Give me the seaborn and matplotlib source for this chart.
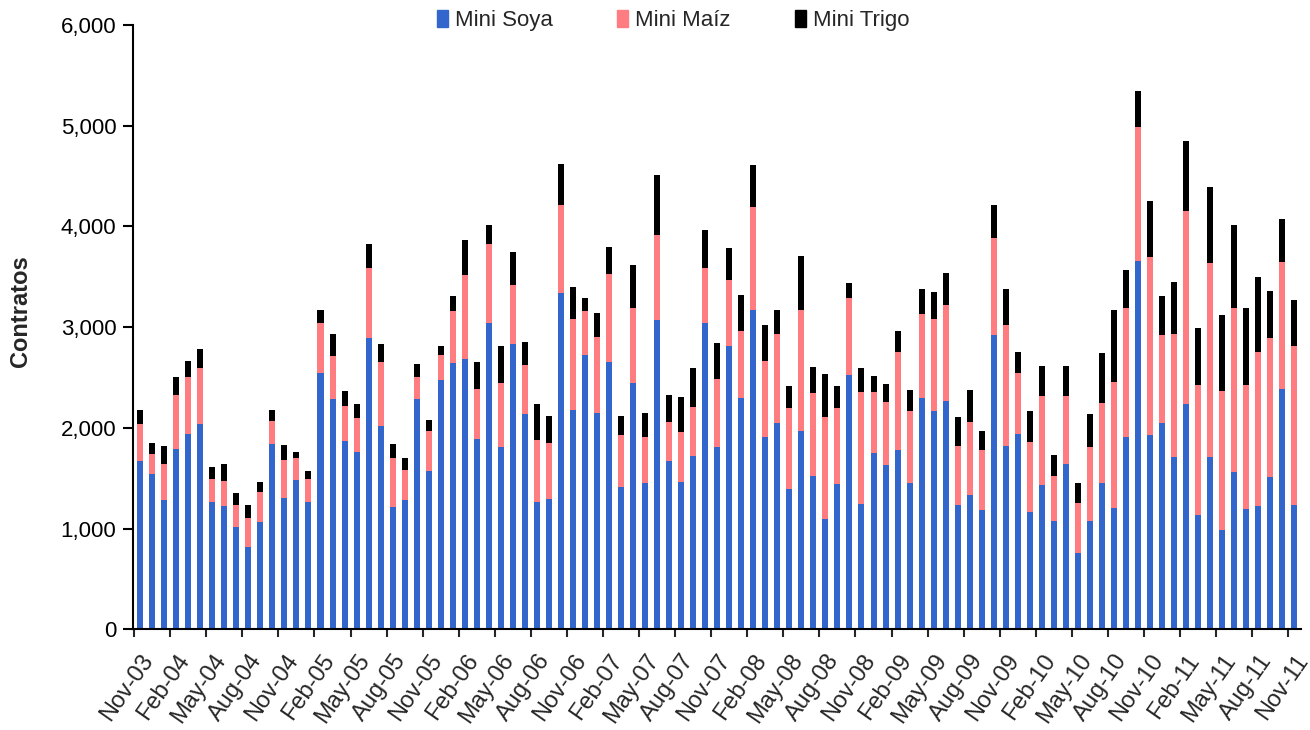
import matplotlib
matplotlib.use("Agg")
import matplotlib.pyplot as plt
from matplotlib.patches import Patch
from matplotlib.ticker import FuncFormatter, FixedLocator
import pandas as pd
import seaborn as sns

# meses Nov-03 .. Nov-11 (97 meses)
meses = pd.date_range("2003-11-01", periods=97, freq="MS").strftime("%b-%y").tolist()

mini_soya = [
    1670, 1540, 1285, 1789, 1939, 2042, 1268, 1225, 1016, 820, 1062, 1836,
    1298, 1477, 1268, 2546, 2281, 1866, 1760, 2892, 2015, 1212, 1285, 2281,
    1572, 2478, 2640, 2687, 1885, 3041, 1812, 2833, 2137, 1259, 1289, 3336,
    2180, 2727, 2150, 2657, 1408, 2448, 1454, 3071, 1673, 1464, 1719, 3038,
    1809, 2816, 2299, 3171, 1912, 2047, 1391, 1968, 1524, 1093, 1438, 2521,
    1242, 1749, 1633, 1779, 1454, 2299, 2163, 2266, 1229, 1332, 1186, 2922,
    1820, 1939, 1163, 1433, 1074, 1643, 754, 1074, 1451, 1199, 1910, 3660,
    1924, 2045, 1714, 2234, 1135, 1714, 989, 1565, 1195, 1224, 1508, 2383,
    1238,
]
mini_maiz = [
    372, 203, 355, 532, 561, 548, 223, 249, 222, 286, 296, 236,
    385, 223, 223, 496, 431, 355, 342, 696, 638, 488, 299, 222,
    394, 245, 517, 825, 500, 782, 630, 589, 484, 619, 560, 872,
    901, 430, 752, 871, 517, 739, 458, 842, 384, 491, 487, 550,
    679, 653, 663, 1023, 755, 888, 802, 1203, 818, 1011, 755, 769,
    1114, 607, 620, 978, 709, 828, 918, 951, 593, 725, 593, 961,
    1201, 604, 697, 886, 445, 676, 498, 740, 797, 1255, 1281, 1327,
    1768, 872, 1217, 1917, 1291, 1918, 1376, 1622, 1231, 1529, 1384, 1263,
    1576,
]
mini_trigo = [
    133, 106, 176, 179, 166, 195, 119, 166, 117, 132, 103, 103,
    150, 60, 76, 129, 220, 146, 132, 239, 176, 136, 116, 133,
    107, 90, 149, 354, 269, 192, 371, 325, 235, 358, 268, 414,
    315, 133, 239, 265, 192, 427, 235, 596, 269, 354, 385, 371,
    358, 311, 358, 418, 354, 236, 219, 533, 265, 427, 219, 149,
    235, 162, 179, 205, 209, 252, 268, 324, 282, 315, 189, 325,
    358, 207, 310, 295, 206, 295, 196, 327, 491, 712, 377, 352,
    559, 387, 519, 697, 565, 757, 758, 829, 761, 744, 469, 430,
    458,
]

COLOR_SOYA = "#3366CC"
COLOR_MAIZ = "#FF7C80"
COLOR_TRIGO = "#000000"

df = pd.DataFrame({"mes": meses, "soya": mini_soya, "maiz": mini_maiz, "trigo": mini_trigo})
df["soya_maiz"] = df["soya"] + df["maiz"]
df["total"] = df["soya_maiz"] + df["trigo"]

sns.set_theme(style="white")
plt.rcParams["font.family"] = ["Liberation Sans", "DejaVu Sans"]

fig = plt.figure(figsize=(13.1, 7.3), dpi=100)
ax = fig.add_axes([0.1015, 0.138, 0.892, 0.828])

# barras apiladas: total, luego soya+maiz, luego soya encima
for col, color in [("total", COLOR_TRIGO), ("soya_maiz", COLOR_MAIZ), ("soya", COLOR_SOYA)]:
    sns.barplot(data=df, x="mes", y=col, order=meses, color=color, saturation=1,
                width=0.5, errorbar=None, ax=ax, linewidth=0)

ax.set_xlim(-0.6, len(meses) - 0.4)
ax.set_ylim(0, 6000)
ax.set_yticks(range(0, 6001, 1000))
ax.yaxis.set_major_formatter(FuncFormatter(lambda v, _: f"{v:,.0f}"))
ax.tick_params(axis="y", which="major", direction="out", length=7, width=1.5,
               left=True, labelsize=16, colors="black", pad=5)

label_pos = list(range(0, len(meses), 3))
ax.xaxis.set_major_locator(FixedLocator(label_pos))
ax.set_xticklabels([meses[i] for i in label_pos], rotation=55, ha="right",
                   rotation_mode="anchor", fontsize=17)
ax.xaxis.set_minor_locator(FixedLocator([p - 0.5 for p in label_pos]))
ax.tick_params(axis="x", which="major", length=0, pad=15)
ax.tick_params(axis="x", which="minor", direction="out", length=6, width=1.5,
               bottom=True)

for side in ["top", "right"]:
    ax.spines[side].set_visible(False)
for side in ["left", "bottom"]:
    ax.spines[side].set_color("black")
    ax.spines[side].set_linewidth(1.5)

ax.set_xlabel("")
ax.set_ylabel("Contratos", fontsize=17, fontweight="bold")
ax.yaxis.set_label_coords(-0.086, 0.527)

handles = [Patch(color=COLOR_SOYA, label="Mini Soya"),
           Patch(color=COLOR_MAIZ, label="Mini Maíz"),
           Patch(color=COLOR_TRIGO, label="Mini Trigo")]
fig.legend(handles=handles, loc="center", bbox_to_anchor=(0.514, 0.972), ncol=3,
           frameon=False, fontsize=16, handlelength=0.5, handleheight=0.8,
           handletextpad=0.3, columnspacing=2.9)

fig.savefig("out.png", dpi=100)
